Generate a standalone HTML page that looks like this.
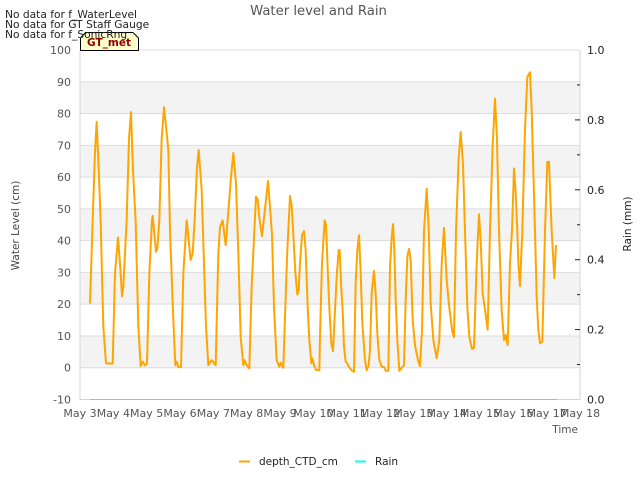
<!DOCTYPE html>
<html>
<head>
<meta charset="utf-8">
<title>Water level and Rain</title>
<style>
html,body{margin:0;padding:0;background:#fff;}
svg{display:block;font-family:"DejaVu Sans","Liberation Sans",sans-serif;}
</style>
</head>
<body>
<svg id="chart" width="640" height="480" viewBox="0 0 640 480" xmlns="http://www.w3.org/2000/svg">
  <rect x="0" y="0" width="640" height="480" fill="#ffffff"/>
  <g id="bands"></g>
  <g id="grid"></g>
  <g id="axes"></g>
  <g id="series"></g>
  <text x="318.5" y="15" font-size="13.2" fill="#555555" text-anchor="middle">Water level and Rain</text>
  <path d="M80.5 50.5V38L85.5 32.5H133L138.5 38V50.5Z" fill="#ffffcc" stroke="#000000" stroke-width="1"/>
  <text x="109" y="46" font-size="10.5" font-weight="bold" fill="#8b0000" text-anchor="middle">GT_met</text>
  <text x="5" y="18" font-size="10.67" fill="#222222">No data for f_WaterLevel</text>
  <text x="5" y="28" font-size="10.67" fill="#222222">No data for GT Staff Gauge</text>
  <text x="5" y="38" font-size="10.67" fill="#222222">No data for f_SonicRng</text>
  <text transform="translate(19,225.5) rotate(-90)" font-size="10.5" fill="#444444" text-anchor="middle">Water Level (cm)</text>
  <text transform="translate(631,224) rotate(-90)" font-size="10.5" fill="#222222" text-anchor="middle">Rain (mm)</text>
  <text x="578" y="433" font-size="10.5" fill="#555555" text-anchor="end">Time</text>
  <g>
    <line x1="239" y1="461.5" x2="250" y2="461.5" stroke="#ffa500" stroke-width="2"/>
    <text x="259" y="465" font-size="10.5" fill="#222222">depth_CTD_cm</text>
    <line x1="355" y1="461.5" x2="366" y2="461.5" stroke="#00ffff" stroke-width="2"/>
    <text x="375" y="465" font-size="10.5" fill="#222222">Rain</text>
  </g>
</svg>
<script>
const leftTicks = [-10, 0, 10, 20, 30, 40, 50, 60, 70, 80, 90, 100];
const rightMajorTicks = [0.0, 0.2, 0.4, 0.6, 0.8, 1.0];
const rightMinorTicks = [0.1, 0.3, 0.5, 0.7, 0.9];
const dateTicks = [3, 4, 5, 6, 7, 8, 9, 10, 11, 12, 13, 14, 15, 16, 17, 18];
const shadedBands = [[80, 90], [60, 70], [40, 50], [20, 30], [0, 10]];

// Days elapsed since May 3 00:00
const depthDays = [
0.30,0.38,0.45,0.50,0.57,0.62,0.70,0.78,0.98,1.05,
1.14,1.20,1.26,1.30,1.40,1.47,1.53,1.59,1.67,1.75,
1.82,1.88,1.95,2.01,2.08,2.16,2.18,2.28,2.32,2.38,
2.45,2.52,2.58,2.65,2.70,2.80,2.86,2.90,2.95,3.03,
3.10,3.20,3.32,3.38,3.44,3.51,3.56,3.65,3.68,3.78,
3.85,3.95,4.07,4.15,4.20,4.28,4.37,4.43,4.53,4.60,
4.68,4.75,4.82,4.90,4.94,5.00,5.08,5.15,5.22,5.28,
5.33,5.37,5.46,5.55,5.64,5.76,5.82,5.90,5.98,6.02,
6.10,6.15,6.22,6.30,6.35,6.40,6.46,6.52,6.56,6.60,
6.66,6.72,6.77,6.83,6.88,6.94,6.97,7.02,7.08,7.18,
7.20,7.26,7.34,7.38,7.44,7.48,7.54,7.59,7.64,7.70,
7.76,7.79,7.83,7.88,7.92,7.97,8.02,8.06,8.15,8.22,
8.27,8.32,8.37,8.42,8.47,8.55,8.60,8.66,8.70,8.75,
8.82,8.87,8.92,8.98,9.05,9.12,9.18,9.25,9.30,9.35,
9.39,9.43,9.47,9.52,9.58,9.65,9.72,9.77,9.82,9.87,
9.92,9.98,10.05,10.15,10.20,10.26,10.32,10.40,10.46,10.52,
10.60,10.70,10.78,10.85,10.92,11.00,11.08,11.17,11.22,11.28,
11.36,11.42,11.49,11.55,11.62,11.68,11.76,11.82,11.90,11.97,
12.02,12.08,12.18,12.23,12.30,12.38,12.45,12.51,12.57,12.65,
12.72,12.77,12.83,12.90,12.96,13.02,13.07,13.12,13.15,13.20,
13.27,13.35,13.42,13.50,13.55,13.65,13.70,13.75,13.80,13.87,
13.95,14.02,14.07,14.15,14.23,14.28
];
const depthValues = [
20.2,46.5,68,77.4,60,46,12.9,1.4,1.3,29.7,
41,33,22.5,25.5,46.5,72,80.5,62,46,12.9,
0.5,1.9,0.7,1.3,29.7,46.5,47.8,36.5,37.5,46.5,
72,82,76,68.5,43,15,0.8,1.9,0.2,0.2,
29.7,46.4,33.9,36,46.5,63,68.5,56,46,12.9,
0.8,2.4,0.8,36,44.3,46.4,38.6,46.5,60,67.6,
58,36,9.7,0.8,2.4,0.8,-0.2,25.5,41,53.8,
53,48,41.4,50,58.8,42,19,2.4,0.3,1.6,
0,16,37,54,51,42,30,23,24.4,33,
41.7,43,37,19,8.7,1.4,3,0.8,-0.7,-0.8,
10,33,46.4,45,28.6,19,7.7,5.2,16,28.6,
37,37,26.6,18,6.6,1.9,1.4,0.3,-0.8,-1.3,
26.6,37,41.7,30,14,2.4,-0.8,0.8,5.6,23.4,
30.5,23.4,10.8,2.4,0.3,0.2,-1,-1,31.8,41,
45.2,37,21.3,8.7,-1,0,0.8,21.3,35,37.4,
33.9,15,7,1.9,0.5,11.8,43,56.3,44,20.2,
8.7,3,8.7,32.8,44,27.6,18.8,11.3,9.6,43,
66,74.2,64,43,19,9.7,5.9,6.2,33,48.3,
40,23.4,16,12,43,70,84.7,72,43,18,
8.7,10.3,7.1,33,43.3,62.7,55,43,33,25.7,
43,75,91.5,93,81,43,22.3,11.8,7.7,8.2,
43,64.8,64.8,43,28.2,38.6
];
const rainDays = [0.30, 14.31];
const rainValues = [0, 0];

const svgNS = 'http://www.w3.org/2000/svg';
const plotLeft = 80, plotRight = 580, plotTop = 50, plotBottom = 399.5;
const xOf = d => plotLeft + (plotRight - plotLeft) * d / 15;
const yLeft = v => plotBottom - (plotBottom - plotTop) * (v + 10) / 110;
const yRight = v => plotBottom - (plotBottom - plotTop) * v;

function make(tag, attrs, parent, txt) {
  const el = document.createElementNS(svgNS, tag);
  for (const k in attrs) el.setAttribute(k, attrs[k]);
  if (txt !== undefined) el.textContent = txt;
  parent.appendChild(el);
  return el;
}

const bandsG = document.getElementById('bands');
const gridG = document.getElementById('grid');
const axesG = document.getElementById('axes');
const seriesG = document.getElementById('series');

shadedBands.forEach(b => {
  const r = make('rect', {x: plotLeft, y: yLeft(b[1]), width: plotRight - plotLeft, height: yLeft(b[0]) - yLeft(b[1]), fill: '#f3f3f3'}, bandsG);
  
  
});

leftTicks.forEach(v => {
  const y = yLeft(v);
  const l = make('line', {x1: plotLeft, x2: plotRight, y1: y, y2: y, stroke: '#dddddd', 'stroke-width': 1}, gridG);
  
  
  const t = make('text', {x: 71, y: y + 4, 'font-size': 11, fill: '#555555', 'text-anchor': 'end'}, axesG, String(v));
  
  
});

const leftAxis = make('line', {x1: plotLeft, x2: plotLeft, y1: plotTop, y2: plotBottom, stroke: '#d4d4d4', 'stroke-width': 1}, axesG);


const rightAxis = make('line', {x1: plotRight, x2: plotRight, y1: plotTop, y2: plotBottom, stroke: '#d4d4d4', 'stroke-width': 1}, axesG);


const bottomAxis = make('line', {x1: plotLeft, x2: plotRight, y1: plotBottom, y2: plotBottom, stroke: '#d4d4d4', 'stroke-width': 1}, axesG);



rightMajorTicks.forEach(v => {
  const y = yRight(v);
  if (v > 0 && v < 1) {
    const m = make('line', {x1: 575, x2: 580, y1: y, y2: y, stroke: '#222222', 'stroke-width': 1}, axesG);
    
    
  }
  const t = make('text', {x: 587, y: y + 4, 'font-size': 11, fill: '#222222'}, axesG, v.toFixed(1));
  
  
});
rightMinorTicks.forEach(v => {
  const y = yRight(v);
  const m = make('line', {x1: 577, x2: 580, y1: y, y2: y, stroke: '#222222', 'stroke-width': 1}, axesG);
  
  
});

dateTicks.forEach((d, i) => {
  const t = make('text', {x: xOf(i), y: 417, 'font-size': 11, fill: '#555555', 'text-anchor': 'middle'}, axesG, 'May ' + d);
  
  
});

const depthPoints = depthDays.map((d, i) => xOf(d).toFixed(2) + ',' + yLeft(depthValues[i]).toFixed(2));
const depthLine = make('polyline', {points: depthPoints.join(' '), fill: 'none', stroke: '#ffa500', 'stroke-width': 2, 'stroke-linejoin': 'round'}, seriesG);



const rainPoints = rainDays.map((d, i) => xOf(d).toFixed(2) + ',' + yRight(rainValues[i]).toFixed(2));
const rainLine = make('polyline', {points: rainPoints.join(' '), fill: 'none', stroke: '#00ffff', 'stroke-width': 1}, seriesG);


</script>
</body>
</html>
